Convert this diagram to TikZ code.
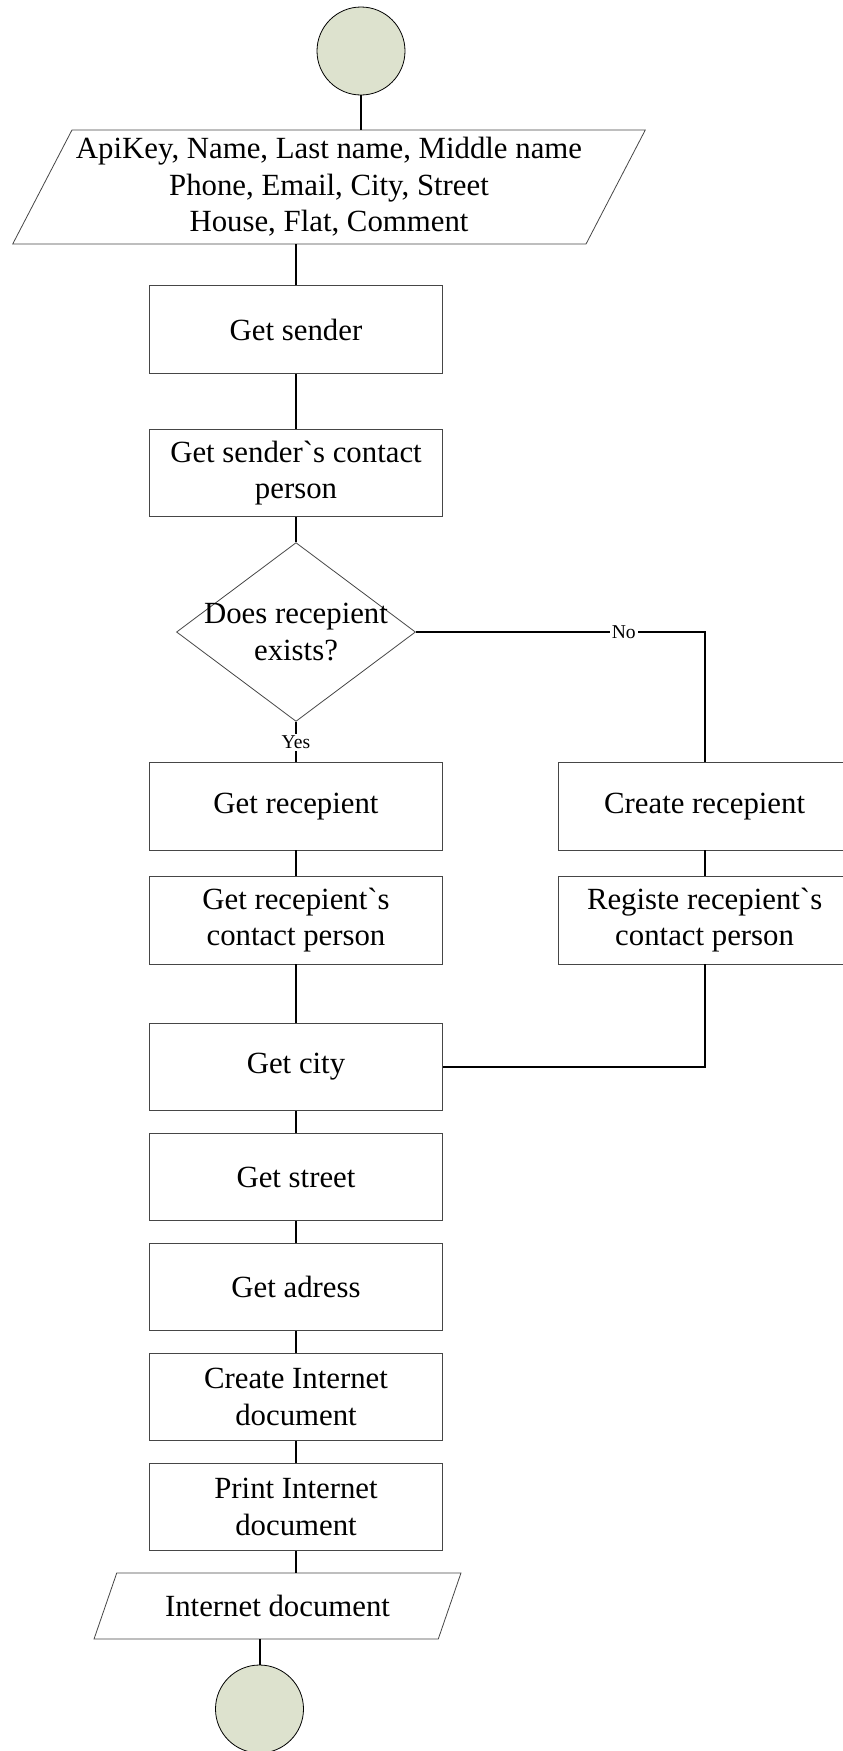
\documentclass[tikz,border=0pt]{standalone}
\usepackage{fontspec}
\setmainfont{Liberation Serif}
\usepackage{tikz}
\usetikzlibrary{
    shapes.geometric,
    arrows.meta
}
\definecolor{termfill}{RGB}{221,226,206}
\definecolor{boxline}{RGB}{70,70,70}

\begin{document}
\begin{tikzpicture}[x=0.5pt,y=-0.5pt,
  every node/.style={font=\fontsize{15.4}{18.2}\selectfont},
  block/.style={draw=boxline,thin,rectangle,minimum width=146.3pt,minimum height=43.7pt,inner sep=2pt,align=center},
  decision/.style={draw=boxline,thin,diamond,inner sep=0pt,minimum width=119.5pt,minimum height=89.4pt},
  io/.style={draw=boxline,thin,trapezium,trapezium left angle=61,trapezium right angle=119,trapezium stretches=true,inner sep=2pt,align=center},
  terminal/.style={draw=black,thin,circle,fill=termfill,minimum size=44pt,inner sep=0pt},
  flow/.style={line width=1pt},
  lbl/.style={font=\fontsize{9.8}{11}\selectfont,fill=white,inner sep=1pt}]
%\draw [help lines](0,0) grid[step=50] (842,1751);
\useasboundingbox (0,0) rectangle (842,1751);
\node [terminal] (start) at (361,51) {};
\node [io,minimum width=316pt,minimum height=57pt] (input) at (329,187)
  {ApiKey, Name, Last name, Middle name\\Phone, Email, City, Street\\House, Flat, Comment};
\node [block] (sender) at (296,329.5) {Get sender};
\node [block] (senderCP) at (296,473) {Get sender\textasciigrave s contact\\person};
\node [decision,label={[align=center]center:Does recepient\\exists?}] (exists) at (296,632) {};
\node [block] (getRec) at (296,806.3) {Get recepient};
\node [block] (getRecCP) at (296,920.3) {Get recepient\textasciigrave s\\contact person};
\node [block] (createRec) at (704.6,806.3) {Create recepient};
\node [block] (regRecCP) at (704.6,920.3) {Registe recepient\textasciigrave s\\contact person};
\node [block] (city) at (296,1067) {Get city};
\node [block] (street) at (296,1177) {Get street};
\node [block] (adress) at (296,1287) {Get adress};
\node [block] (createDoc) at (296,1397) {Create Internet\\document};
\node [block] (printDoc) at (296,1507) {Print Internet\\document};
\node [io,minimum width=183.5pt,minimum height=33pt] (output) at (277.5,1606) {Internet document};
\node [terminal] (finish) at (259.5,1709) {};
\draw [flow] (start) -- (start |- input.north);
\draw [flow] (sender) -- (sender |- input.south);
\draw [flow] (sender) -- (senderCP);
\draw [flow] (senderCP) -- (exists);
\draw [flow] (exists) -- node[lbl] {Yes} (getRec);
\draw [flow] (exists) -| node[lbl,pos=0.36] {No} (createRec);
\draw [flow] (getRec) -- (getRecCP);
\draw [flow] (createRec) -- (regRecCP);
\draw [flow] (getRecCP) -- (city);
\draw [flow] (regRecCP) |- (city);
\draw [flow] (city) -- (street);
\draw [flow] (street) -- (adress);
\draw [flow] (adress) -- (createDoc);
\draw [flow] (createDoc) -- (printDoc);
\draw [flow] (printDoc) -- (printDoc |- output.north);
\draw [flow] (finish) -- (finish |- output.south);
\end{tikzpicture}
\end{document}
